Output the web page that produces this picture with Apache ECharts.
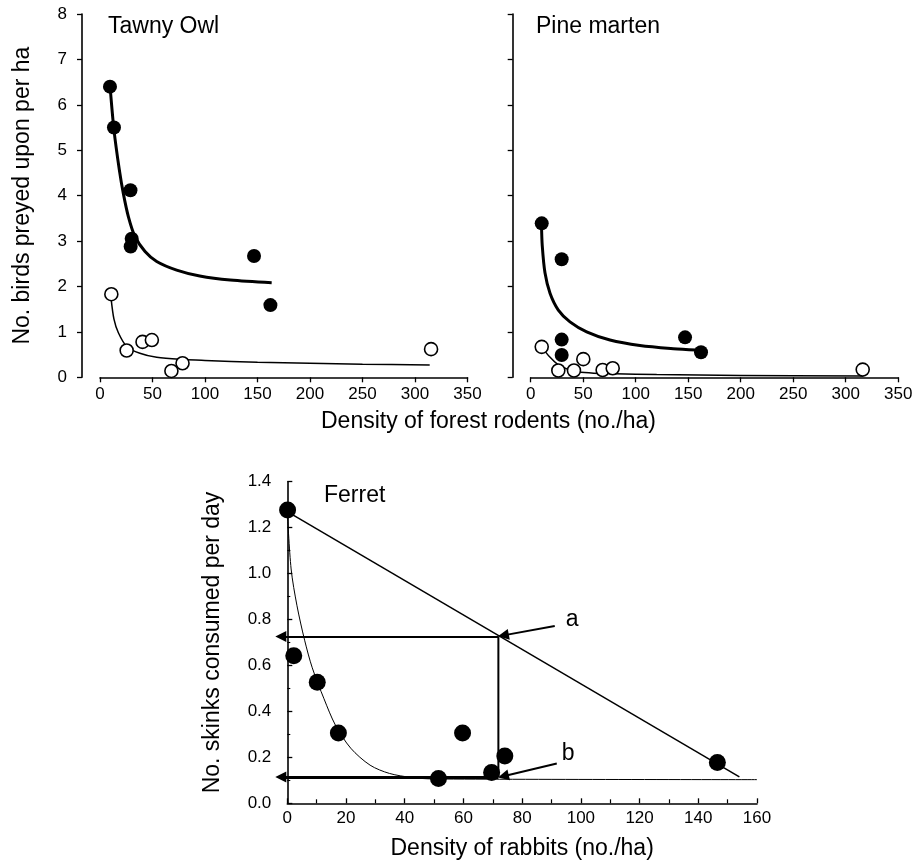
<!DOCTYPE html>
<html lang="en">
<head>
    <meta charset="UTF-8">
    <title>predation</title>
    <script src="https://cdn.jsdelivr.net/npm/echarts@6/dist/echarts.min.js"></script>
    <style>
        body { margin: 0; background: #fff; }
        #chart { width: 918px; height: 863px; }
    </style>
</head>
<body>
<div id="chart"></div>
<script>
    // Tawny Owl (filled = one prey group, open = the other)
    var tawnyFilled = [[9.5, 6.4], [13.3, 5.5], [29, 4.12], [30.2, 3.05], [29.2, 2.88], [146.7, 2.67], [162.3, 1.59]];
    var tawnyOpen = [[10.8, 1.83], [25.4, 0.59], [40.5, 0.78], [49.4, 0.82], [68, 0.14], [78.6, 0.31], [315.3, 0.62]];
    var tawnyFilledFit = [[9.8, 6.35], [13.3, 5.45], [18.4, 4.57], [22.2, 4.05], [27, 3.54], [33.3, 3.1], [42.9, 2.77], [54, 2.55], [73, 2.36], [95, 2.23], [124, 2.14], [163.5, 2.08]];
    var tawnyOpenFit = [[10.5, 1.75], [13.3, 1.28], [17.5, 0.98], [25.4, 0.68], [38, 0.53], [54, 0.44], [80, 0.39], [100, 0.37], [150, 0.33], [200, 0.31], [250, 0.29], [314, 0.27]];

    // Pine marten
    var pineFilled = [[10.5, 3.39], [29.5, 2.6], [29.5, 0.83], [29.5, 0.49], [147, 0.88], [162.2, 0.55]];
    var pineOpen = [[10.5, 0.67], [26.3, 0.15], [41.2, 0.15], [50.1, 0.4], [68.5, 0.16], [78.1, 0.2], [316.2, 0.17]];
    var pineFilledFit = [[10.3, 3.35], [11, 2.9], [13.6, 2.3], [18.4, 1.85], [26.3, 1.48], [37.4, 1.22], [53.3, 1.0], [75.5, 0.82], [104, 0.7], [135.8, 0.63], [158, 0.6]];
    var pineOpenFit = [[10.5, 0.67], [18, 0.45], [26, 0.28], [35, 0.18], [45, 0.12], [60, 0.09], [80, 0.08], [120, 0.06], [200, 0.04], [316, 0.03]];

    // Ferret
    var ferretPts = [[0.1, 1.277], [2.2, 0.642], [10.2, 0.527], [17.4, 0.306], [59.7, 0.306], [74.1, 0.206], [69.6, 0.134], [51.5, 0.108], [146.5, 0.178]];
    var ferretLine = [[0, 1.27], [154, 0.115]];
    var ferretCurve = [[0, 1.27], [1.3, 1.02], [3.3, 0.86], [5.9, 0.71], [8.5, 0.59], [12.5, 0.455], [16.4, 0.34], [21.6, 0.24], [28.2, 0.166], [34.8, 0.13], [42.6, 0.112], [50, 0.106], [160, 0.103]];
    var arrowTop = [[71.9, 0.726], [-2.2, 0.726]];
    var arrowBottom = [[71.9, 0.115], [-2.2, 0.115]];
    var dropLine = [[71.9, 0.726], [71.9, 0.115]];
    var pointerA = [[91.1, 0.772], [73.6, 0.731]];
    var pointerB = [[91.8, 0.173], [73.6, 0.118]];
    var pointerLabels = [[97, 0.80, 'a'], [95.7, 0.216, 'b']];

    var FONT = 'Liberation Sans, Arial, sans-serif';
    var BLACK = '#000';

    function topX(idx) {
        return {
            gridIndex: idx, type: 'value', min: 0, max: 350, interval: 50,
            axisLine: {show: true, onZero: false, lineStyle: {color: BLACK, width: 1.6}},
            axisTick: {show: true, inside: false, length: 5, lineStyle: {color: BLACK, width: 1.3}},
            axisLabel: {show: true, color: BLACK, fontSize: 17, fontFamily: FONT, margin: 9},
            splitLine: {show: false}
        };
    }

    function topY(idx, labels) {
        var ax = {
            gridIndex: idx, type: 'value', min: 0, max: 8, interval: 1, offset: 18,
            axisLine: {show: true, onZero: false, lineStyle: {color: BLACK, width: 1.6}},
            axisTick: {show: true, inside: false, length: 5, lineStyle: {color: BLACK, width: 1.3}},
            axisLabel: {show: labels, color: BLACK, fontSize: 17, fontFamily: FONT, margin: 15},
            splitLine: {show: false}
        };
        if (labels) {
            ax.name = 'No. birds preyed upon per ha';
            ax.nameLocation = 'middle';
            ax.nameGap = 48;
            ax.nameTextStyle = {color: BLACK, fontSize: 23, fontFamily: FONT};
        }
        return ax;
    }

    function dots(name, data, x, y, size, open) {
        return {
            name: name, type: 'scatter', xAxisIndex: x, yAxisIndex: y, data: data,
            symbol: 'circle', symbolSize: size, z: 5,
            itemStyle: open ? {color: '#fff', borderColor: BLACK, borderWidth: 1.6, opacity: 1}
                : {color: BLACK, opacity: 1},
            emphasis: {disabled: true}
        };
    }

    function fit(name, data, x, y, w) {
        return {
            name: name, type: 'line', xAxisIndex: x, yAxisIndex: y, data: data,
            smooth: 0.3, showSymbol: false, symbol: 'none', z: 3,
            lineStyle: {color: BLACK, width: w}, emphasis: {disabled: true}
        };
    }

    var chart = echarts.init(document.getElementById('chart'), null, {renderer: 'canvas'});
    chart.setOption({
        animation: false,
        backgroundColor: '#fff',
        textStyle: {fontFamily: FONT, color: BLACK},
        title: [
            {text: 'Tawny Owl', left: 108, top: 15, padding: 0, textStyle: {fontSize: 23, fontWeight: 'normal', color: BLACK, fontFamily: FONT}},
            {text: 'Pine marten', left: 536, top: 15, padding: 0, textStyle: {fontSize: 23, fontWeight: 'normal', color: BLACK, fontFamily: FONT}},
            {text: 'Ferret', left: 324, top: 484, padding: 0, textStyle: {fontSize: 23, fontWeight: 'normal', color: BLACK, fontFamily: FONT}},
            {text: 'Density of forest rodents (no./ha)', left: 321, top: 410, padding: 0, textStyle: {fontSize: 23, fontWeight: 'normal', color: BLACK, fontFamily: FONT}}
        ],
        grid: [
            {left: 100, top: 14, width: 367.5, height: 363.3, containLabel: false, outerBoundsMode: 'none'},
            {left: 530.7, top: 14, width: 367.5, height: 363.3, containLabel: false, outerBoundsMode: 'none'},
            {left: 287.3, top: 481.7, width: 469.7, height: 321.6, containLabel: false, outerBoundsMode: 'none'}
        ],
        xAxis: [
            topX(0),
            topX(1),
            {
                gridIndex: 2, type: 'value', min: 0, max: 160, interval: 20,
                name: 'Density of rabbits (no./ha)', nameLocation: 'middle', nameGap: 34,
                nameTextStyle: {color: BLACK, fontSize: 23, fontFamily: FONT},
                axisLine: {show: true, onZero: false, lineStyle: {color: BLACK, width: 1.6}},
                axisTick: {show: true, inside: true, length: 5, lineStyle: {color: BLACK, width: 1.3}},
                minorTick: {show: true, splitNumber: 2, length: 4, lineStyle: {color: BLACK, width: 1.2}},
                axisLabel: {show: true, color: BLACK, fontSize: 17, fontFamily: FONT, margin: 7},
                splitLine: {show: false}, minorSplitLine: {show: false}
            }
        ],
        yAxis: [
            topY(0, true),
            topY(1, false),
            {
                gridIndex: 2, type: 'value', min: 0, max: 1.4, interval: 0.2,
                name: 'No. skinks consumed per day', nameLocation: 'middle', nameGap: 63,
                nameTextStyle: {color: BLACK, fontSize: 23, fontFamily: FONT},
                axisLine: {show: true, onZero: false, lineStyle: {color: BLACK, width: 1.6}},
                axisTick: {show: true, inside: true, length: 5, lineStyle: {color: BLACK, width: 1.3}},
                minorTick: {show: true, splitNumber: 2, length: 3, lineStyle: {color: BLACK, width: 1.1}},
                axisLabel: {
                    show: true, color: BLACK, fontSize: 17, fontFamily: FONT, margin: 16,
                    formatter: function (v) { return v.toFixed(1); }
                },
                splitLine: {show: false}, minorSplitLine: {show: false}
            }
        ],
        series: [
            fit('tawnyFilledFit', tawnyFilledFit, 0, 0, 3),
            fit('tawnyOpenFit', tawnyOpenFit, 0, 0, 1.5),
            dots('tawnyFilled', tawnyFilled, 0, 0, 14, false),
            dots('tawnyOpen', tawnyOpen, 0, 0, 13, true),

            fit('pineFilledFit', pineFilledFit, 1, 1, 3),
            fit('pineOpenFit', pineOpenFit, 1, 1, 1.5),
            dots('pineFilled', pineFilled, 1, 1, 14, false),
            dots('pineOpen', pineOpen, 1, 1, 13, true),

            {
                name: 'ferretLine', type: 'line', xAxisIndex: 2, yAxisIndex: 2, data: ferretLine,
                showSymbol: false, symbol: 'none', z: 3, lineStyle: {color: BLACK, width: 1.5}
            },
            fit('ferretCurve', ferretCurve, 2, 2, 1),
            {
                name: 'drop', type: 'line', xAxisIndex: 2, yAxisIndex: 2, data: dropLine,
                showSymbol: false, symbol: 'none', z: 3, lineStyle: {color: BLACK, width: 2}
            },
            {
                name: 'arrows', type: 'lines', coordinateSystem: 'cartesian2d', xAxisIndex: 2, yAxisIndex: 2,
                clip: false, z: 4, symbol: ['none', 'triangle'], symbolSize: [9, 11],
                lineStyle: {color: BLACK, width: 2, opacity: 1, curveness: 0},
                data: [
                    {coords: arrowTop, lineStyle: {width: 2}},
                    {coords: arrowBottom, lineStyle: {width: 3}},
                    {coords: pointerA, lineStyle: {width: 2}},
                    {coords: pointerB, lineStyle: {width: 2}}
                ]
            },
            dots('ferret', ferretPts, 2, 2, 17, false),
            {
                name: 'pointerLabels', type: 'scatter', xAxisIndex: 2, yAxisIndex: 2,
                data: pointerLabels, symbolSize: 0, z: 6,
                itemStyle: {color: BLACK, opacity: 1},
                emphasis: {disabled: true},
                label: {
                    show: true, position: 'inside', color: '#000', opacity: 1,
                    textBorderWidth: 0, fontSize: 23, fontFamily: FONT,
                    formatter: function (p) { return p.data[2]; }
                }
            }
        ]
    });
</script>
</body>
</html>
